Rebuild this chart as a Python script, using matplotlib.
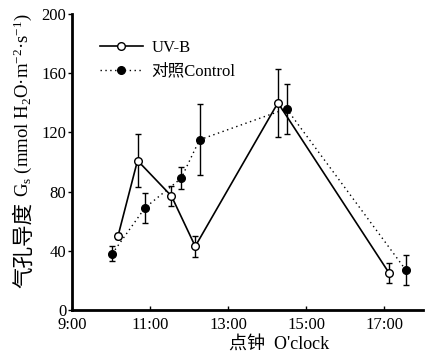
import matplotlib
matplotlib.use("Agg")
import matplotlib.pyplot as plt
from matplotlib.ticker import FixedLocator
from matplotlib.lines import Line2D

plt.rcParams['font.family'] = ['Liberation Serif', 'Noto Sans CJK SC']
plt.rcParams['mathtext.fontset'] = 'custom'
plt.rcParams['mathtext.rm'] = 'Liberation Serif'
plt.rcParams['mathtext.it'] = 'Liberation Serif:italic'

# Data (hours of day, Gs values, error)
uvb_time = [10.18, 10.68, 11.55, 12.16, 14.28, 17.13]
uvb_gs = [50, 101, 77, 43, 140, 25]
uvb_err = [2, 17.7, 6.5, 7, 23, 6.5]

ctrl_time = [10.03, 10.87, 11.80, 12.27, 14.50, 17.56]
ctrl_gs = [38, 69, 89, 115, 136, 27]
ctrl_err = [5, 10, 7.5, 24, 17, 10]

xticks = [9, 11, 13, 15, 17]
xticklabels = ['9:00', '11:00', '13:00', '15:00', '17:00']
yticks = [0, 40, 80, 120, 160, 200]

W, H = 426, 356
fig = plt.figure(figsize=(W/100, H/100), dpi=100)
ax = fig.add_axes([72/W, 1-310/H, (423-72)/W, (310-14)/H])

ctrl_style = dict(color='black', linestyle=(0, (1, 2.5)), linewidth=1.0, marker='o',
                  markersize=5.5, markerfacecolor='black', markeredgecolor='black')
uvb_style = dict(color='black', linestyle='-', linewidth=1.2, marker='o', markersize=5.5,
                 markerfacecolor='white', markeredgecolor='black', markeredgewidth=1.0)

ax.errorbar(ctrl_time, ctrl_gs, yerr=ctrl_err, capsize=2.5, elinewidth=1.0, capthick=1.0,
            zorder=2, **ctrl_style)
ax.errorbar(uvb_time, uvb_gs, yerr=uvb_err, capsize=2.5, elinewidth=1.0, capthick=1.0,
            zorder=3, **uvb_style)

ax.set_xlim(9, 18)
ax.set_ylim(0, 200)
ax.xaxis.set_major_locator(FixedLocator(xticks))
ax.set_xticklabels(xticklabels)
ax.set_yticks(yticks)
ax.tick_params(axis='x', direction='in', length=3, width=1, labelsize=12, pad=5)
ax.tick_params(axis='y', direction='out', length=3, width=1, labelsize=12, pad=1)

for s in ['top', 'right']:
    ax.spines[s].set_visible(False)
for s in ['left', 'bottom']:
    ax.spines[s].set_linewidth(2)

ax.set_xlabel("点钟  O'clock", fontsize=13, labelpad=0)
ax.xaxis.set_label_coords(0.59, -0.085)

# y label in two pieces (CJK part + mathtext part)
fig.text(24/W, 1-245/H, "气孔导度", rotation=90, ha='center', va='center', fontsize=15.5,
         family=['Noto Sans CJK SC'], fontweight='light')
fig.text(23/W, 1-197/H, "G$_\\mathrm{s}$ (mmol H$_2$O·m$^{-2}$·s$^{-1}$)", rotation=90,
         ha='center', va='bottom', fontsize=13.5)

handles = [Line2D([], [], **uvb_style), Line2D([], [], **ctrl_style)]
labels = ['UV-B', '对照Control']
ax.legend(handles, labels, loc='upper left', bbox_to_anchor=(0.06, 0.935),
          frameon=False, fontsize=12, handlelength=2.6, handletextpad=0.5,
          labelspacing=0.45, borderaxespad=0)

fig.savefig('out.png', dpi=100)
